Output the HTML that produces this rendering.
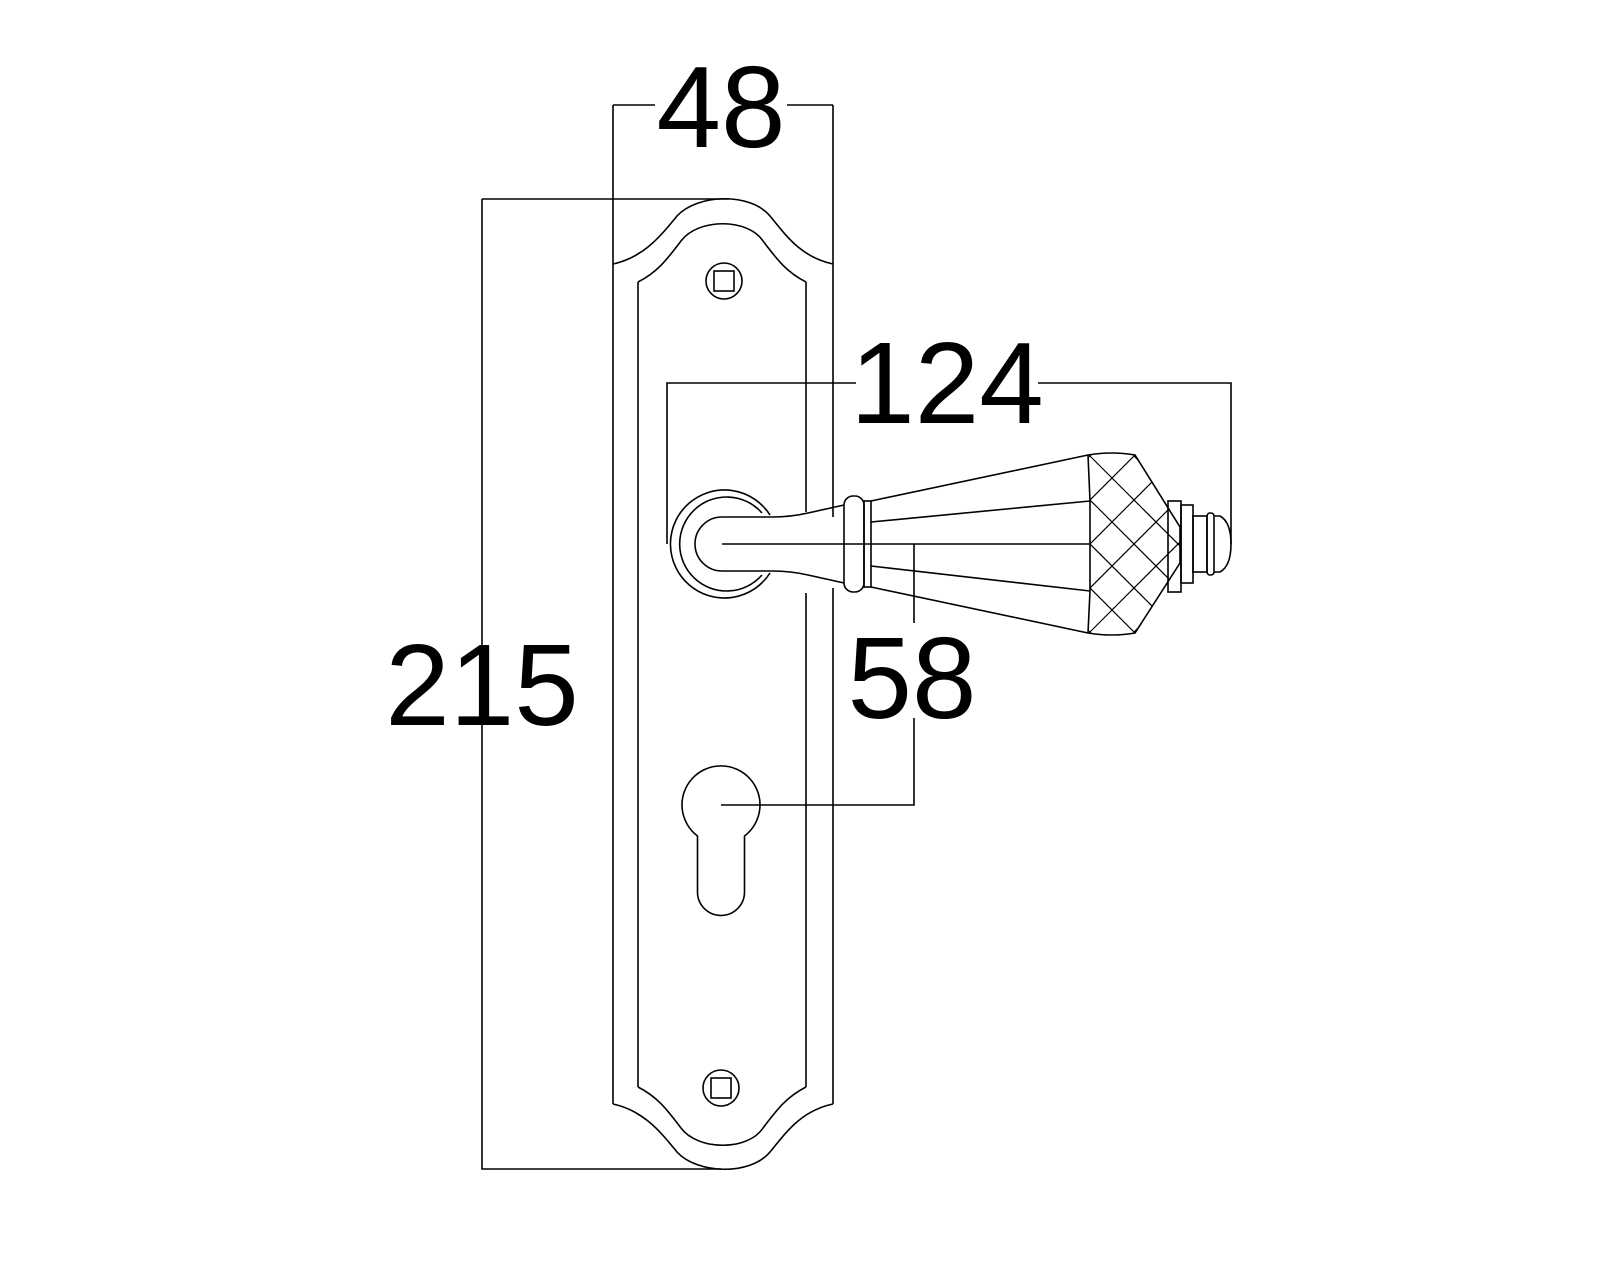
<!DOCTYPE html>
<html><head><meta charset="utf-8"><style>html,body{margin:0;padding:0;background:#fff}svg{display:block}</style></head>
<body>
<svg width="1600" height="1280" viewBox="0 0 1600 1280" xmlns="http://www.w3.org/2000/svg">
<defs>
<clipPath id="dc"><path d="M1089,455 L1135,455 L1180,527 L1180,563 L1135,633 L1089,633 L1090,591 L1090,501 Z"/></clipPath>
</defs>
<g fill="none" stroke="#000" stroke-width="1.6">
<path d="M613,105 H655 M787,105 H833"/>
<path d="M613,105 V1104 M833,105 V517 M833,588 V1104"/>
<path d="M613,264 C645,257 662,234 677,216 C697,194 750,192 770,216 C785,234 800,257 833,264"/>
<path d="M613,1104 C645,1111 662,1134 677,1152 C697,1174 750,1176 770,1152 C785,1134 800,1111 833,1104"/>
<path d="M638,282 V1087 M806,282 V512 M806,593 V1087"/>
<path d="M638,282 C658,272 668,258 681,241 C698,218 748,218 763,241 C776,258 786,272 806,282"/>
<path d="M638,1087 C658,1097 668,1111 681,1128 C698,1151 748,1151 763,1128 C776,1111 786,1097 806,1087"/>
<circle cx="724" cy="281" r="18"/><rect x="714" y="271" width="20" height="20"/>
<circle cx="721" cy="1088" r="18"/><rect x="711" y="1078" width="20" height="20"/>
<path d="M697.5,836 A39,39 0 1 1 744.5,836 V892 A23.5,23.5 0 0 1 697.5,892 Z"/>
<path d="M482,199 H729 M482,199 V1169 H721"/>
<path d="M721,805 H914 V718 M914,623 V544"/>
<path d="M667,544 V383 H856 M1038,383 H1231 V544"/>
<path d="M770,515 A54,54 0 1 0 770,573"/>
<path d="M762,513 A47,47 0 1 0 762,575"/>
<path d="M844,505 L808,513 C795,516 785,517 772,517 H722 A27,27 0 0 0 722,571 H772 C785,571 795,572 808,575 L844,583"/>
<path d="M722,544 H1090"/>
<rect x="844" y="496" width="20" height="96" rx="9"/>
<rect x="864" y="501" width="7" height="86"/>
<path d="M871,501 L1088,455 Q1112,451 1135,455 L1180,527 L1180,563 L1135,633 Q1112,637 1088,633 L871,587"/>
<path d="M871,522 L1090,501 M871,566 L1090,591 M1088,455 L1090,501 L1090,591 L1088,633"/>
<g clip-path="url(#dc)" stroke-width="1.2">
<path d="M1046,456 l200,200 M1090,456 l200,200 M1134,456 l200,200 M1002,456 l200,200 M958,456 l200,200 M914,456 l200,200 M870,456 l200,200 M826,456 l200,200"/>
<path d="M1046,632 l200,-200 M1090,632 l200,-200 M1134,632 l200,-200 M1002,632 l200,-200 M958,632 l200,-200 M914,632 l200,-200 M870,632 l200,-200 M826,632 l200,-200"/>
</g>
<rect x="1168" y="501" width="13" height="91"/>
<rect x="1181" y="505" width="12" height="78"/>
<rect x="1193" y="516" width="14" height="56"/>
<rect x="1207" y="513" width="7" height="62" rx="3"/>
<path d="M1214,516 H1220 Q1231,522 1231,544 Q1231,566 1220,572 H1214"/>
</g>
<g font-family="'Liberation Sans', Arial, sans-serif" font-size="116" fill="#000" text-anchor="middle">
<text x="721" y="147">48</text>
<text x="947" y="423">124</text>
<text x="482" y="725">215</text>
<text x="912" y="718">58</text>
</g>
</svg>
</body></html>
